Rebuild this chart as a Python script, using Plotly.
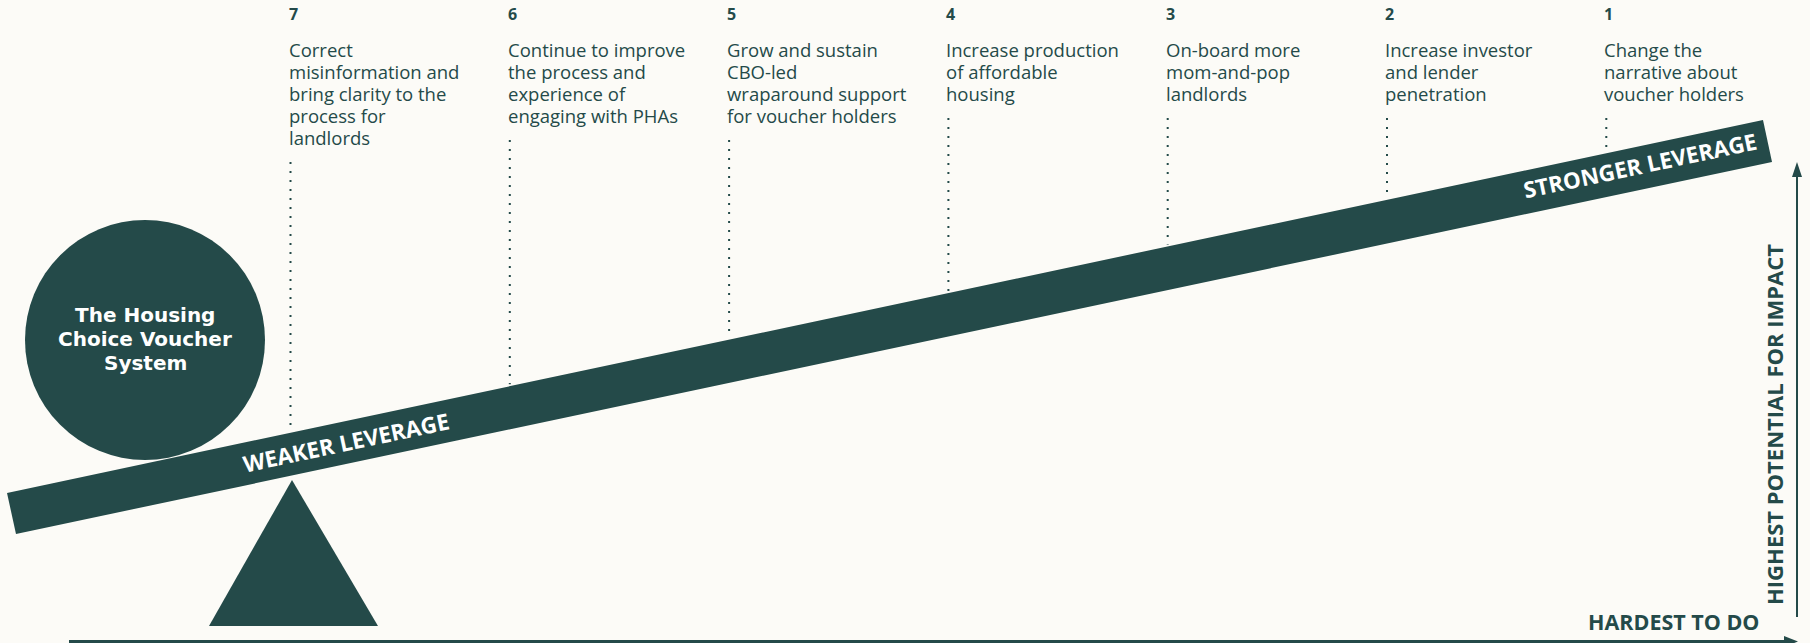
import plotly.graph_objects as go

# ---------------- data ----------------
ranks = [7, 6, 5, 4, 3, 2, 1]
labels = [
    "Correct\nmisinformation and\nbring clarity to the\nprocess for\nlandlords",
    "Continue to improve\nthe process and\nexperience of\nengaging with PHAs",
    "Grow and sustain\nCBO-led\nwraparound support\nfor voucher holders",
    "Increase production\nof affordable\nhousing",
    "On-board more\nmom-and-pop\nlandlords",
    "Increase investor\nand lender\npenetration",
    "Change the\nnarrative about\nvoucher holders",
]
center_title = ["The Housing", "Choice Voucher", "System"]
beam_left_label = "WEAKER LEVERAGE"
beam_right_label = "STRONGER LEVERAGE"
x_axis_label = "HARDEST TO DO"
y_axis_label = "HIGHEST POTENTIAL FOR IMPACT"

# ---------------- style / layout constants ----------------
W, H = 1810, 643
BG = "#fcfbf7"
DARK = "#244a49"
FONT = "Open Sans"
BOLD_WIDE = "DejaVu Sans"

COL_X0 = 286.5      # x of rank-7 column
COL_STEP = 219.3    # column spacing
LINE0_Y = 49
LINE_H = 22

# beam corners (top-left, top-right, bottom-right, bottom-left)
BTL = (7, 493)
BTR = (1763, 120)
BBR = (1772, 162)
BBL = (16, 534)
ANGLE = -12


def beam_top_y(x):
    return BTL[1] + (BTR[1] - BTL[1]) * (x - BTL[0]) / (BTR[0] - BTL[0])


fig = go.Figure()
annotations = []
shapes = []

# circle (drawn below the beam)
shapes.append(dict(type="circle", xref="x", yref="y", x0=25, x1=265, y0=220, y1=460,
                   fillcolor=DARK, line=dict(width=0), layer="below"))
# beam
shapes.append(dict(type="path", xref="x", yref="y",
                   path=f"M {BTL[0]} {BTL[1]} L {BTR[0]} {BTR[1]} L {BBR[0]} {BBR[1]} L {BBL[0]} {BBL[1]} Z",
                   fillcolor=DARK, line=dict(width=0), layer="below"))
# fulcrum
shapes.append(dict(type="path", xref="x", yref="y",
                   path="M 292 480 L 378 626 L 209 626 Z",
                   fillcolor=DARK, line=dict(width=0), layer="below"))
# axes arrows
shapes.append(dict(type="line", xref="x", yref="y", x0=69, x1=1788, y0=641.5, y1=641.5,
                   line=dict(color=DARK, width=3)))
shapes.append(dict(type="path", xref="x", yref="y",
                   path="M 1798 641.5 L 1784 636 L 1784 647 Z",
                   fillcolor=DARK, line=dict(width=0)))
shapes.append(dict(type="line", xref="x", yref="y", x0=1797, x1=1797, y0=617, y1=172,
                   line=dict(color=DARK, width=2)))
shapes.append(dict(type="path", xref="x", yref="y",
                   path="M 1797 162 L 1802 177 L 1792 177 Z",
                   fillcolor=DARK, line=dict(width=0)))

# columns
for rank, label in zip(ranks, labels):
    x = COL_X0 + (7 - rank) * COL_STEP
    lines = label.split("\n")
    annotations.append(dict(x=x, y=14, xref="x", yref="y", text=str(rank), showarrow=False,
                            xanchor="left", yanchor="middle",
                            font=dict(family=FONT, size=16, color=DARK, weight=700)))
    for i, ln in enumerate(lines):
        annotations.append(dict(x=x, y=LINE0_Y + i * LINE_H, xref="x", yref="y", text=ln,
                                showarrow=False, xanchor="left", yanchor="middle",
                                font=dict(family=FONT, size=18.5, color=DARK)))
    dx = x + 4
    y_start = LINE0_Y + (len(lines) - 1) * LINE_H + 25
    fig.add_trace(go.Scatter(x=[dx, dx], y=[y_start, beam_top_y(dx) - 2], mode="lines",
                             line=dict(color=DARK, width=2, dash="2px,7px"),
                             hoverinfo="skip", showlegend=False))

# circle title
for i, ln in enumerate(center_title):
    annotations.append(dict(x=145, y=315 + i * 24, xref="x", yref="y", text=ln, showarrow=False,
                            xanchor="center", yanchor="middle",
                            font=dict(family=BOLD_WIDE, size=20, color="white", weight=700)))

# beam labels
annotations.append(dict(x=346, y=442, xref="x", yref="y", text=beam_left_label, showarrow=False,
                        textangle=ANGLE, xanchor="center", yanchor="middle",
                        font=dict(family=FONT, size=22.5, color="white", weight=700)))
annotations.append(dict(x=1640, y=165, xref="x", yref="y", text=beam_right_label, showarrow=False,
                        textangle=ANGLE, xanchor="center", yanchor="middle",
                        font=dict(family=FONT, size=22.5, color="white", weight=700)))

# axis labels
annotations.append(dict(x=1762, y=621, xref="x", yref="y", text=x_axis_label, showarrow=False,
                        xanchor="right", yanchor="middle",
                        font=dict(family=FONT, size=21.5, color=DARK, weight=700)))
annotations.append(dict(x=1774, y=425, xref="x", yref="y", text=y_axis_label, showarrow=False,
                        textangle=-90, xanchor="center", yanchor="middle",
                        font=dict(family=FONT, size=22, color=DARK, weight=700)))

fig.update_layout(
    width=W, height=H,
    margin=dict(l=0, r=0, t=0, b=0),
    paper_bgcolor=BG, plot_bgcolor=BG,
    xaxis=dict(range=[0, W], visible=False, fixedrange=True),
    yaxis=dict(range=[H, 0], visible=False, fixedrange=True),
    shapes=shapes, annotations=annotations,
    showlegend=False,
)

fig.write_html("out.html", config={"displayModeBar": False},
               post_script="document.body.style.margin='0';document.body.style.background='%s';" % BG)
